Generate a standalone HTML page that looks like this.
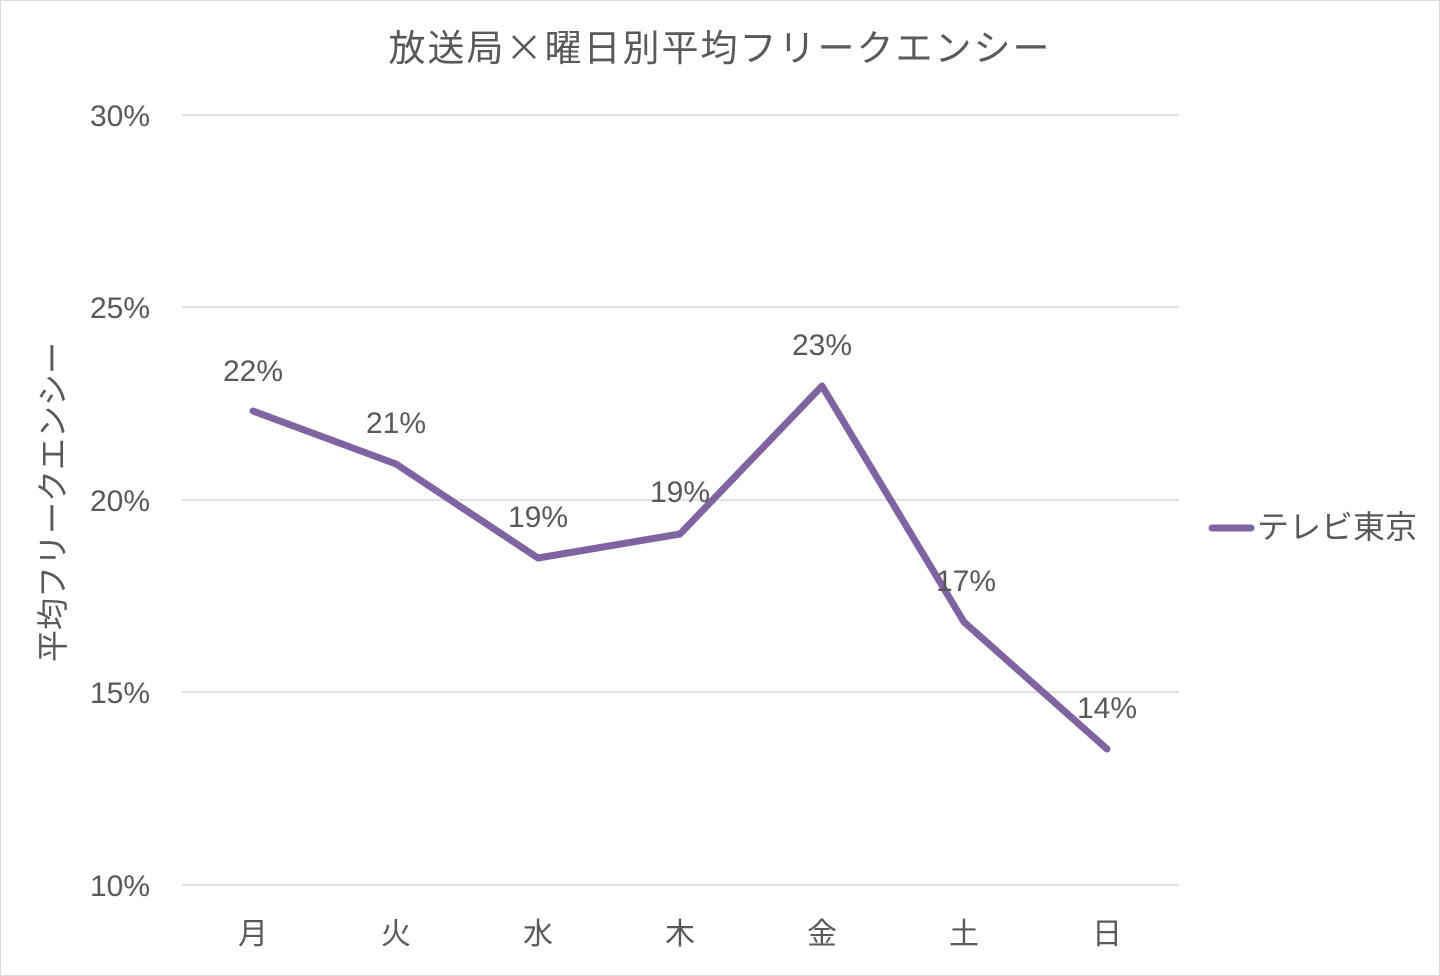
<!DOCTYPE html>
<html><head><meta charset="utf-8"><style>
html,body{margin:0;padding:0;background:#fff;}
svg{display:block;}
text{font-family:"Liberation Sans","Noto Sans CJK JP",sans-serif;fill:#595959;}
.jp{font-family:"Noto Sans CJK JP",sans-serif;}
</style></head><body>
<svg width="1440" height="976" viewBox="0 0 1440 976">
<rect x="0.5" y="0.5" width="1439" height="975" fill="#fff" stroke="#d9d9d9"/>
<text class="jp" x="720" y="61" font-size="37" letter-spacing="2" text-anchor="middle">放送局×曜日別平均フリークエンシー</text>
<g stroke="#d9d9d9" stroke-width="1.5">
<line x1="182" x2="1179" y1="115" y2="115"/>
<line x1="182" x2="1179" y1="307" y2="307"/>
<line x1="182" x2="1179" y1="500" y2="500"/>
<line x1="182" x2="1179" y1="692" y2="692"/>
<line x1="182" x2="1179" y1="885" y2="885"/>
</g>
<g font-size="30" text-anchor="end">
<text x="150" y="126">30%</text>
<text x="150" y="318">25%</text>
<text x="150" y="511">20%</text>
<text x="150" y="703">15%</text>
<text x="150" y="896">10%</text>
</g>
<text transform="translate(64,502) rotate(-90)" font-size="32" text-anchor="middle">平均フリークエンシー</text>
<g font-size="30" text-anchor="middle">
<text x="253" y="944">月</text><text x="396" y="944">火</text><text x="538" y="944">水</text>
<text x="680" y="944">木</text><text x="822" y="944">金</text><text x="964" y="944">土</text><text x="1107" y="944">日</text>
</g>
<polyline points="253,411 396,464 538,558 680,534 822,386 964,622 1107,749" fill="none" stroke="#8064a2" stroke-width="7" stroke-linejoin="round" stroke-linecap="round"/>
<g font-size="30" text-anchor="middle">
<text x="253" y="381">22%</text><text x="396" y="433">21%</text><text x="538" y="527">19%</text>
<text x="680" y="502">19%</text><text x="822" y="355">23%</text><text x="966" y="591">17%</text><text x="1107" y="718">14%</text>
</g>
<line x1="1212" x2="1251" y1="528" y2="528" stroke="#8064a2" stroke-width="7" stroke-linecap="round"/>
<text x="1257" y="538" font-size="32">テレビ東京</text>
</svg>
</body></html>
